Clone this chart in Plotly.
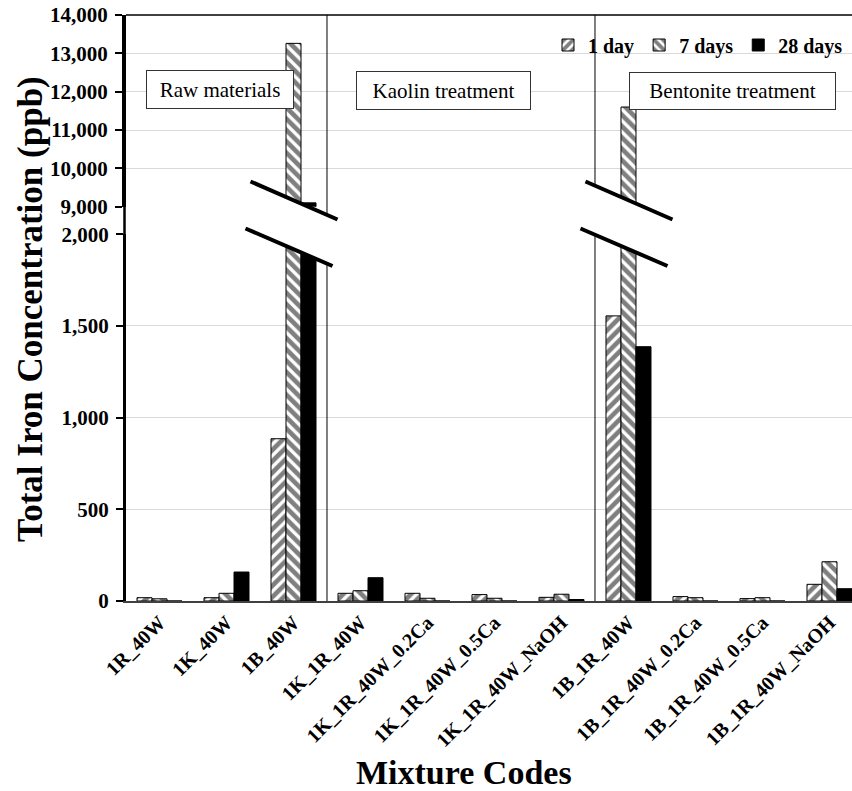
import plotly.graph_objects as go

# ---- data (ppb) ----
categories = ['1R_40W', '1K_40W', '1B_40W', '1K_1R_40W', '1K_1R_40W_0.2Ca',
              '1K_1R_40W_0.5Ca', '1K_1R_40W_NaOH', '1B_1R_40W', '1B_1R_40W_0.2Ca',
              '1B_1R_40W_0.5Ca', '1B_1R_40W_NaOH']
day1 = [18, 18, 885, 42, 42, 35, 20, 1555, 24, 13, 91]
day7 = [12, 42, 13260, 56, 15, 15, 37, 11600, 18, 18, 214]
day28 = [0, 158, 9100, 127, 0, 0, 8, 1387, 0, 0, 67]
series_names = ['1 day', '7 days', '28 days']

lower_ticks = [0, 500, 1000, 1500, 2000]
upper_ticks = [9000, 10000, 11000, 12000, 13000, 14000]
group_labels = ['Raw materials', 'Kaolin treatment', 'Bentonite treatment']
broken_groups = ['1B_40W', '1B_1R_40W']
section_edges = [2.5, 6.5]

# ---- geometry ----
FIG_W, FIG_H = 852, 791
L, T = 126, 15
W, H = FIG_W - L, 586
X_RANGE = [-0.5, 10.336]
CAT_PX = W / (X_RANGE[1] - X_RANGE[0])
SERIF = 'Liberation Serif'


def px_x(px):
    return (px - L) / W


def px_y(py):
    return (T + H - py) / H


def cat_px(i):
    return L + (i - X_RANGE[0]) * CAT_PX


lower_dom = [0, px_y(234.3)]
upper_dom = [px_y(206.7), 1]

hatch = dict(fgcolor='black', bgcolor='white', size=8, solidity=0.58)
styles = [
    dict(pattern=dict(shape='/', **hatch), color='white'),
    dict(pattern=dict(shape='\\', **hatch), color='white'),
    dict(color='black'),
]

fig = go.Figure()
for vals, name, st in zip([day1, day7, day28], series_names, styles):
    for xa, ya, show in [('x', 'y', True), ('x2', 'y2', False)]:
        fig.add_trace(go.Bar(
            x=categories, y=vals, name=name, xaxis=xa, yaxis=ya,
            showlegend=show, legendgroup=name,
            marker=dict(line=dict(color='black', width=1), **st),
        ))

tick_font = dict(family=SERIF, size=21, color='black', weight='bold')

fig.update_layout(
    width=FIG_W, height=FIG_H,
    margin=dict(l=L, r=0, t=T, b=FIG_H - T - H, pad=0),
    paper_bgcolor='white', plot_bgcolor='white',
    barmode='group', bargap=1 - 45 / 67, bargroupgap=0,
    font=dict(family=SERIF, color='black'),
    xaxis=dict(
        domain=[0, 1], anchor='y', type='category', range=X_RANGE,
        showline=True, linecolor='#404040', linewidth=2,
        ticks='', tickangle=-45, showgrid=False,
        tickfont=dict(family=SERIF, size=20, color='black', weight='bold'),
    ),
    xaxis2=dict(
        domain=[0, 1], anchor='y2', matches='x', type='category', range=X_RANGE,
        showticklabels=False, showline=False, ticks='', showgrid=False,
    ),
    yaxis=dict(
        domain=lower_dom, anchor='x', range=[0, 2000],
        tickvals=lower_ticks, tickformat=',d', tickfont=tick_font,
        showline=True, linecolor='black', linewidth=3,
        ticks='outside', ticklen=7, tickwidth=2, tickcolor='black',
        showgrid=True, gridcolor='#d9d9d9', gridwidth=1, zeroline=False,
        ticklabelstandoff=3,
    ),
    yaxis2=dict(
        domain=upper_dom, anchor='x2', range=[9000, 14000],
        tickvals=upper_ticks, tickformat=',d', tickfont=tick_font,
        showline=True, linecolor='black', linewidth=4,
        ticks='outside', ticklen=7, tickwidth=2, tickcolor='black',
        showgrid=True, gridcolor='#d9d9d9', gridwidth=1, zeroline=False,
        ticklabelstandoff=3,
    ),
    legend=dict(
        orientation='h', x=px_x(848), xanchor='right', y=px_y(45), yanchor='middle',
        font=dict(family=SERIF, size=20, color='black', weight='bold'),
        bgcolor='rgba(0,0,0,0)', itemwidth=30, traceorder='normal',
        itemclick=False,
    ),
)

shapes = []
# frame top edge
shapes.append(dict(type='line', xref='paper', yref='paper', x0=0, x1=1, y0=1, y1=1,
                   line=dict(color='#404040', width=2)))
# axis line through the gap between the two panels
shapes.append(dict(type='line', xref='paper', yref='paper', x0=px_x(124.5), x1=px_x(124.5),
                   y0=lower_dom[1], y1=upper_dom[0], line=dict(color='black', width=2.5)))
# section separators
for edge in section_edges:
    xp = px_x(cat_px(edge))
    shapes.append(dict(type='line', xref='paper', yref='paper', x0=xp, x1=xp, y0=0, y1=1,
                       line=dict(color='black', width=1)))

# axis-break marks on the tall groups
for g in broken_groups:
    cx = cat_px(categories.index(g))
    up = [(cx - 43, 181.5), (cx + 44, 219.5)]
    lo = [(cx - 48, 228.5), (cx + 39, 266.0)]
    path = 'M {} {} L {} {} L {} {} L {} {} Z'.format(
        px_x(up[0][0]), px_y(up[0][1]), px_x(up[1][0]), px_y(up[1][1]),
        px_x(lo[1][0]), px_y(lo[1][1]), px_x(lo[0][0]), px_y(lo[0][1]))
    shapes.append(dict(type='path', xref='paper', yref='paper', path=path,
                       fillcolor='white', line=dict(width=0), layer='above'))
    for seg in (up, lo):
        shapes.append(dict(type='line', xref='paper', yref='paper',
                           x0=px_x(seg[0][0]), y0=px_y(seg[0][1]),
                           x1=px_x(seg[1][0]), y1=px_y(seg[1][1]),
                           line=dict(color='black', width=4), layer='above'))
fig.update_layout(shapes=shapes)

annotations = []
# section labels in boxes
boxes = [(146, 294, 70, 109), (356, 531, 71, 110), (629, 836, 72, 110)]
for label, (x0, x1, y0, y1) in zip(group_labels, boxes):
    annotations.append(dict(
        xref='paper', yref='paper', x=px_x((x0 + x1) / 2), y=px_y((y0 + y1) / 2),
        xanchor='center', yanchor='middle', text=label, showarrow=False,
        font=dict(family=SERIF, size=21, color='black'),
        bgcolor='white', bordercolor='#333333', borderwidth=1, borderpad=0,
        width=x1 - x0 - 2, height=y1 - y0 - 2,
    ))
# axis titles
annotations.append(dict(
    xref='paper', yref='paper', x=px_x(30), y=px_y(309), xanchor='center', yanchor='middle',
    text='<b>Total Iron Concentration (ppb)</b>', textangle=-90, showarrow=False,
    font=dict(family=SERIF, size=35, color='black'),
))
annotations.append(dict(
    xref='paper', yref='paper', x=px_x(464), y=px_y(772), xanchor='center', yanchor='middle',
    text='<b>Mixture Codes</b>', showarrow=False,
    font=dict(family=SERIF, size=34, color='black'),
))
fig.update_layout(annotations=annotations)

fig.write_html('out.html')
